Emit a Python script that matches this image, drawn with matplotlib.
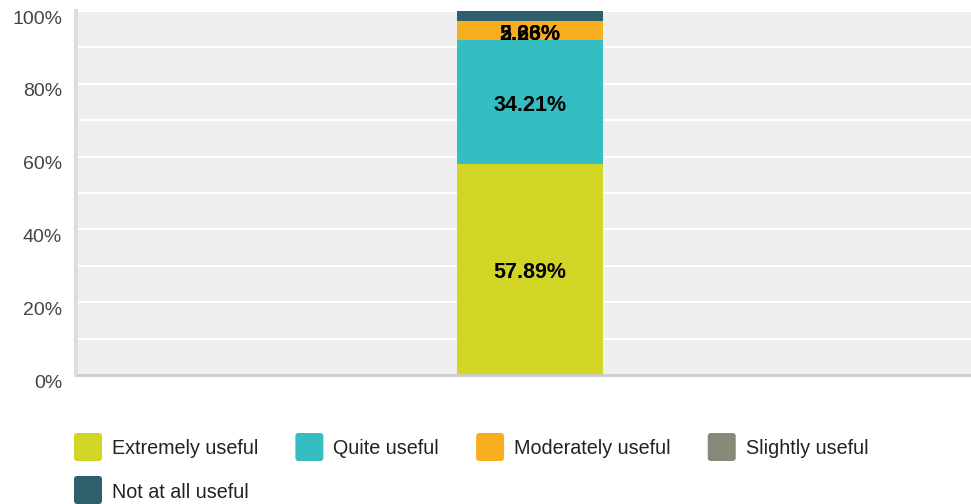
import matplotlib
matplotlib.use("Agg")
import matplotlib.pyplot as plt
from matplotlib.patches import FancyBboxPatch
import matplotlib.transforms as mtrans
import numpy as np

plt.rcParams['font.family'] = ['Liberation Sans', 'DejaVu Sans']

categories = ["Extremely useful", "Quite useful", "Moderately useful", "Slightly useful", "Not at all useful"]
values = [57.89, 34.21, 5.26, 0.0, 2.63]
colors = ["#d1d626", "#35bec1", "#f7ae1f", "#878a78", "#2e5f6c"]
yticks = [0, 20, 40, 60, 80, 100]
ytick_labels = ["0%", "20%", "40%", "60%", "80%", "100%"]

W, H = 971, 504
fig = plt.figure(figsize=(W / 100, H / 100), dpi=100)
ax = fig.add_axes([78 / W, (H - 375) / H, 904 / W, 364 / H])
ax.set_facecolor("#efefef")
ax.set_xlim(-0.5, 0.5)
ax.set_ylim(0, 100)

for y in np.arange(10, 101, 10):
    ax.axhline(y, color="white", lw=1.5, zorder=1)

bottom = 0.0
bw = 146 / 904
loff = mtrans.ScaledTranslation(0, -3 / 100, fig.dpi_scale_trans)
for cat, v, c in zip(categories, values, colors):
    if v > 0:
        ax.bar(0, v, bottom=bottom, width=bw, color=c, zorder=2, linewidth=0)
        yc = min(bottom + v / 2, 94.5)
        ax.text(0, yc, f"{v:.2f}%", ha="center", va="center", fontsize=15.5,
                fontweight="bold", color="black", zorder=3,
                transform=ax.transData + loff)
    bottom += v

ax.set_xticks([])
ax.set_yticks(yticks)
ax.set_yticklabels([])
ax.tick_params(axis="y", length=0)
off = mtrans.ScaledTranslation(-16 / 100, -8 / 100, fig.dpi_scale_trans)
for y, lab in zip(yticks, ytick_labels):
    ax.text(0, y, lab, transform=ax.get_yaxis_transform() + off, ha="right",
            va="center", fontsize=14, color="#444444", clip_on=False)

for s in ["top", "right"]:
    ax.spines[s].set_visible(False)
ax.spines["left"].set_color("#dddddd")
ax.spines["left"].set_linewidth(3)
ax.spines["left"].set_position(("outward", 1.5))
ax.spines["bottom"].set_color("#cccccc")
ax.spines["bottom"].set_linewidth(2)

# manual flow legend
fig.canvas.draw()
renderer = fig.canvas.get_renderer()
x = 74
rows_y = [447, 490]
row = 0
maxx = 900
for cat, c in zip(categories, colors):
    t = fig.text(0, 0, cat, fontsize=14.2, color="#222222", va="center", ha="left")
    tw = t.get_window_extent(renderer).width
    if x + 38 + tw > maxx:
        row += 1
        x = 74
    yc = rows_y[row]
    box = FancyBboxPatch(((x + 1) / W, (H - yc - 13) / H), 26 / W, 26 / H,
                         boxstyle=f"round,pad={1/W},rounding_size={3/W}",
                         transform=fig.transFigure, facecolor=c, edgecolor="none",
                         mutation_aspect=W / H)
    fig.add_artist(box)
    t.set_position(((x + 38) / W, (H - yc - 2) / H))
    x = x + 38 + tw + 37

fig.savefig("out.png", dpi=100)
